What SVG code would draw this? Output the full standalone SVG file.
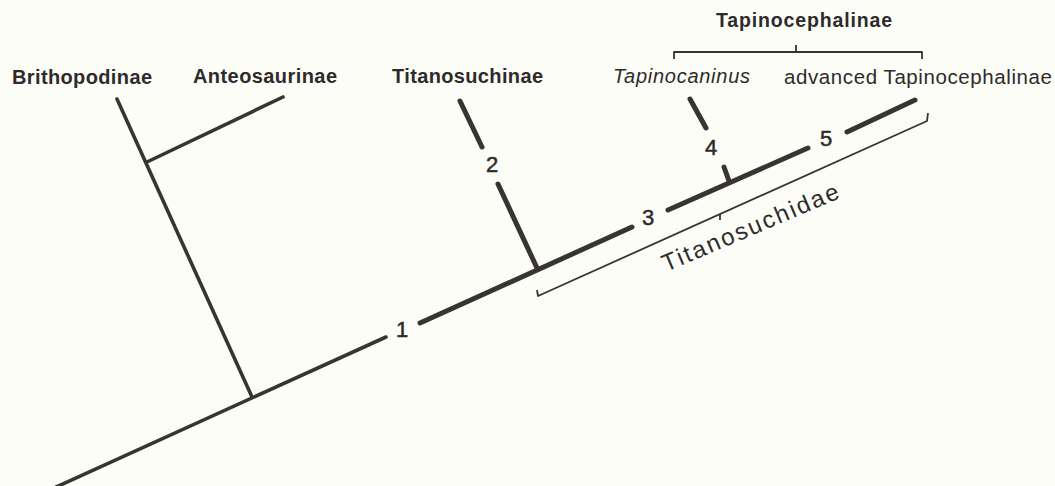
<svg xmlns="http://www.w3.org/2000/svg" width="1055" height="486" viewBox="0 0 1055 486">
<style>
.br{stroke:#383432;fill:none;stroke-linecap:round}
.t1{stroke-width:3.6}
.t2{stroke-width:5}
.bk{stroke:#383432;fill:none;stroke-width:1.8;stroke-linejoin:round}
.lb{font-family:"Liberation Sans",Arial,sans-serif;fill:#2e2b2a;font-size:20px}
.b{font-weight:bold}
.num{font-family:"Liberation Sans",Arial,sans-serif;fill:#2e2b2a;font-size:22px;text-anchor:middle;stroke:#2e2b2a;stroke-width:0.5}
</style>
<rect width="1055" height="486" fill="#fdfdf8"/>
<g id="connectors">
<line class="br t1" x1="54" y1="488" x2="386" y2="337"/>
<line class="br t2" x1="420" y1="323" x2="632" y2="227"/>
<line class="br t2" x1="668" y1="210" x2="808" y2="148"/>
<line class="br t2" x1="847" y1="132" x2="915" y2="100"/>
<line class="br t1" x1="117" y1="99" x2="252" y2="397"/>
<line class="br t1" x1="147" y1="162" x2="283" y2="97"/>
<line class="br t2" x1="460" y1="101" x2="482" y2="147"/>
<line class="br t2" x1="498" y1="184" x2="537" y2="268"/>
<line class="br t2" x1="690" y1="99" x2="706" y2="128"/>
<line class="br t2" x1="724" y1="167" x2="729" y2="181"/>
</g>
<g id="bracket-titanosuchidae">
<polyline class="bk" points="537,290 538,296 927,121 928,113"/>
<line class="bk" x1="720" y1="214" x2="720" y2="220"/>
<text class="lb" style="font-size:24px" transform="translate(666,272) rotate(-23)" textLength="190" lengthAdjust="spacing">Titanosuchidae</text>
</g>
<g id="bracket-tapinocephalinae">
<polyline class="bk" points="674,59 674,52 922,52 922,59"/>
<line class="bk" x1="796" y1="45" x2="796" y2="52"/>
<text class="lb b" x="716" y="27" style="font-size:19.5px" textLength="176" lengthAdjust="spacing">Tapinocephalinae</text>
</g>
<g id="node-brithopodinae"><text class="lb b" x="12" y="84" textLength="140" lengthAdjust="spacing">Brithopodinae</text></g>
<g id="node-anteosaurinae"><text class="lb b" x="193" y="83" textLength="144" lengthAdjust="spacing">Anteosaurinae</text></g>
<g id="node-titanosuchinae"><text class="lb b" x="392" y="83" textLength="151" lengthAdjust="spacing">Titanosuchinae</text></g>
<g id="node-tapinocaninus"><text class="lb" x="613" y="83" font-style="italic" textLength="137" lengthAdjust="spacing">Tapinocaninus</text></g>
<g id="node-advanced"><text class="lb" x="784" y="84" style="font-size:20.5px" textLength="268" lengthAdjust="spacing">advanced Tapinocephalinae</text></g>
<g id="numbers">
<text class="num" x="402" y="337">1</text>
<text class="num" x="492" y="172">2</text>
<text class="num" x="648" y="225">3</text>
<text class="num" x="711" y="155">4</text>
<text class="num" x="826" y="146">5</text>
</g>
</svg>
